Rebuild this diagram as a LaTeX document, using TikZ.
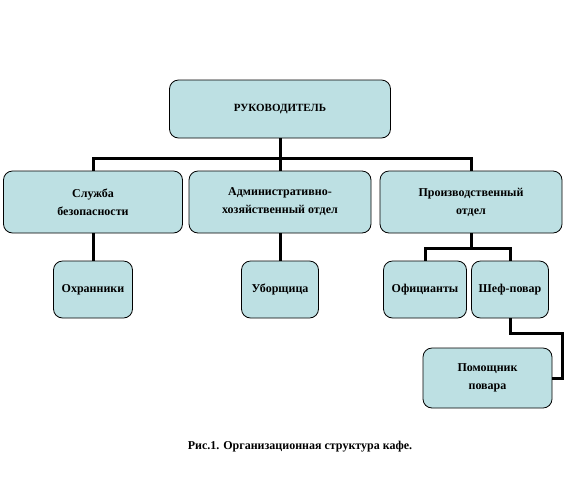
\documentclass[tikz,border=0pt]{standalone}
\usepackage{fontspec}
\setmainfont{Liberation Serif}
\definecolor{boxfill}{RGB}{189,224,227}
\tikzset{
  box/.style={draw=black, line width=0.8pt, fill=boxfill, rounded corners=9pt,
    inner sep=2pt, align=center, font=\bfseries\fontsize{12}{18}\selectfont},
  conn/.style={draw=black, line width=3pt}
}
\begin{document}
\begin{tikzpicture}[x=1pt,y=-1pt]
\useasboundingbox (0,0) rectangle (564,480);
\node[box, minimum width=221pt, minimum height=58pt, font=\bfseries\fontsize{11}{18}\selectfont] (top) at (280,109) {РУКОВОДИТЕЛЬ};
\node[box, minimum width=179pt, minimum height=62pt] (b1) at (93,202) {Служба\\безопасности};
\node[box, minimum width=182pt, minimum height=62pt] (b2) at (280,202) {Административно-\\хозяйственный отдел};
\node[box, minimum width=182pt, minimum height=62pt] (b3) at (471,202) {Производственный\\отдел};
\node[box, minimum width=79pt, minimum height=57pt] (g) at (93,289.5) {Охранники};
\node[box, minimum width=77pt, minimum height=57pt] (u) at (280,289.5) {Уборщица};
\node[box, minimum width=83pt, minimum height=57pt] (w) at (425,289.5) {Официанты};
\node[box, minimum width=77pt, minimum height=57pt] (c) at (510,289.5) {Шеф-повар};
\node[box, minimum width=129pt, minimum height=60pt] (h) at (487.5,378) {Помощник\\повара};
\node[font=\bfseries\fontsize{12}{14}\selectfont] (cap) at (300,447) {Рис.1. Организационная структура кафе.};
\coordinate (bus) at (280,158);
\coordinate (pbus) at (471,248);
\coordinate (turn) at (562,333);
\draw[conn] (top.south) -- (b2.north);
\draw[conn] (b1.north) |- (bus) -| (b3.north);
\draw[conn] (b1.south) -- (g.north);
\draw[conn] (b2.south) -- (u.north);
\draw[conn] (b3.south) -- (pbus);
\draw[conn] (w.north) |- (pbus) -| (c.north);
\draw[conn] (c.south) |- (turn) |- (h.east);
\end{tikzpicture}
\end{document}
